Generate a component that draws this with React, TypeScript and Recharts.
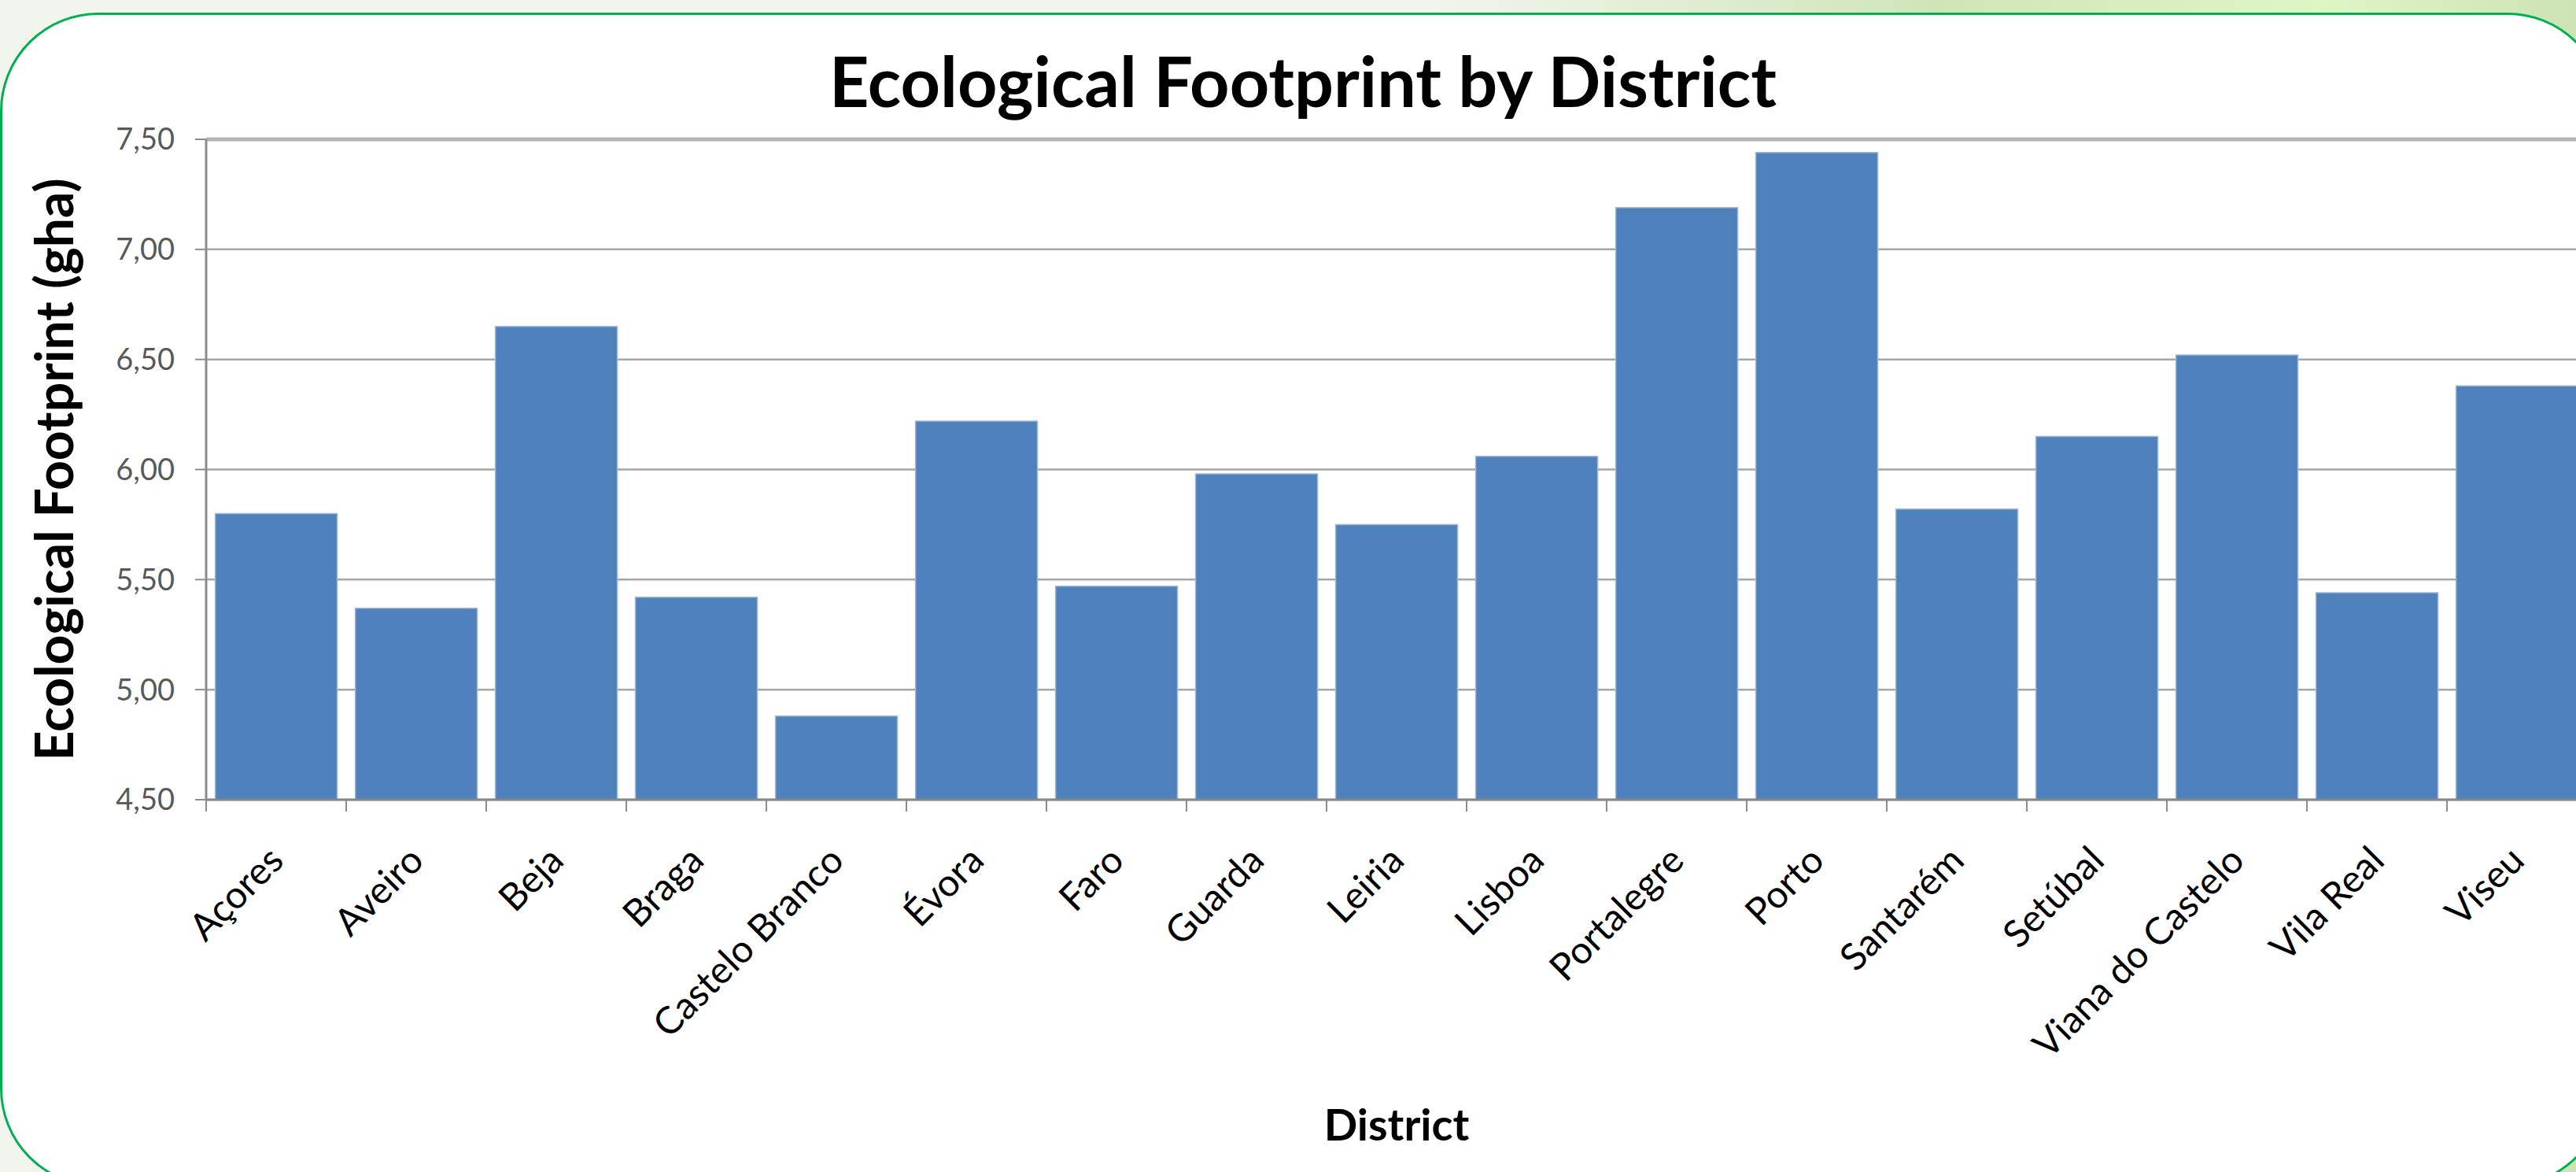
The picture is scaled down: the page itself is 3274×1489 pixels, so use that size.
import React from "react";
import {
  BarChart,
  Bar,
  XAxis,
  YAxis,
  CartesianGrid,
  Label,
  ReferenceLine,
} from "recharts";

// values (gha per person)
const districts = [
  "Açores",
  "Aveiro",
  "Beja",
  "Braga",
  "Castelo Branco",
  "Évora",
  "Faro",
  "Guarda",
  "Leiria",
  "Lisboa",
  "Portalegre",
  "Porto",
  "Santarém",
  "Setúbal",
  "Viana do Castelo",
  "Vila Real",
  "Viseu",
];
const footprint = [
  5.8, 5.37, 6.65, 5.42, 4.88, 6.22, 5.47, 5.98, 5.75, 6.06, 7.19, 7.44, 5.82,
  6.15, 6.52, 5.44, 6.38,
];
const yTicks = [4.5, 5, 5.5, 6, 6.5, 7, 7.5];

const data = districts.map((district, i) => ({
  district,
  value: footprint[i],
}));

const FONT = "Lato, 'Open Sans', sans-serif";
const AXIS_GREY = "#8c8c8c";

// tick mark at the category boundary, label rotated 45deg ending under the bar
function DistrictTick(props: any) {
  const { x, y, payload } = props;
  const half = payload?.offset ?? 89;
  const ax = x + 12;
  const ay = y + 80;
  return (
    <g>
      <line
        x1={x - half}
        x2={x - half}
        y1={y}
        y2={y + 15}
        stroke={AXIS_GREY}
        strokeWidth={2}
      />
      <text
        x={ax}
        y={ay}
        textAnchor="end"
        transform={`rotate(-45, ${ax}, ${ay})`}
        fontSize={48}
        fontFamily={FONT}
        fill="#000"
      >
        {payload.value}
      </text>
    </g>
  );
}

export default function App() {
  return (
    <div
      style={{
        position: "absolute",
        left: 0,
        top: 0,
        width: 3274,
        height: 1489,
        overflow: "hidden",
        background:
          "linear-gradient(90deg, #f2f5ee 0%, #f2f5ee 55%, #cfe5b8 75%, #def5c6 90%, #cde3b6 100%)",
      }}
    >
      <div
        style={{
          position: "absolute",
          left: 0,
          top: 16,
          width: 3312,
          height: 1492,
          boxSizing: "border-box",
          border: "3px solid #00b050",
          borderRadius: 125,
          background: "#fff",
        }}
      />
      <svg
        width={3274}
        height={1489}
        style={{ position: "absolute", left: 0, top: 0 }}
      >
        <text
          x={1656}
          y={136}
          textAnchor="middle"
          fontSize={88}
          fontWeight={700}
          fontFamily={FONT}
          fill="#000"
        >
          Ecological Footprint by District
        </text>
      </svg>
      <div style={{ position: "absolute", left: 0, top: 0 }}>
        <BarChart
          width={3300}
          height={1489}
          data={data}
          margin={{ top: 177, right: 12, bottom: 0, left: 0 }}
          barCategoryGap="6.5%"
        >
          <CartesianGrid
            vertical={false}
            stroke="#a6a6a6"
            strokeWidth={2.5}
          />
          <XAxis
            dataKey="district"
            height={473}
            interval={0}
            tickLine={false}
            tickSize={0}
            tickMargin={0}
            axisLine={{ stroke: "#878787", strokeWidth: 3 }}
            tick={<DistrictTick />}
          >
            <Label
              content={({ viewBox }: any) => (
                <text
                  x={viewBox.x + viewBox.width / 2}
                  y={viewBox.y + 433}
                  textAnchor="middle"
                  fontSize={56}
                  fontWeight={700}
                  fontFamily={FONT}
                  fill="#000"
                >
                  District
                </text>
              )}
            />
          </XAxis>
          <YAxis
            width={262}
            domain={[4.5, 7.5]}
            ticks={yTicks}
            interval={0}
            tickSize={14}
            tickMargin={26}
            tickLine={{ stroke: AXIS_GREY, strokeWidth: 2 }}
            axisLine={{ stroke: AXIS_GREY, strokeWidth: 3 }}
            tick={{ fontSize: 38, fill: "#595959", fontFamily: FONT }}
            tickFormatter={(v: number) => v.toFixed(2).replace(".", ",")}
          >
            <Label
              content={({ viewBox }: any) => {
                const cx = viewBox.x + 93;
                const cy = viewBox.y + viewBox.height / 2;
                return (
                  <text
                    x={cx}
                    y={cy}
                    textAnchor="middle"
                    transform={`rotate(-90, ${cx}, ${cy})`}
                    fontSize={66}
                    fontWeight={700}
                    fontFamily={FONT}
                    fill="#000"
                  >
                    Ecological Footprint (gha)
                  </text>
                );
              }}
            />
          </YAxis>
          <ReferenceLine y={7.5} stroke="#b4b4b4" strokeWidth={5} />
          <Bar
            dataKey="value"
            fill="#4f81bd"
            stroke="#9fb8da"
            strokeWidth={1.5}
            isAnimationActive={false}
          />
        </BarChart>
      </div>
    </div>
  );
}
